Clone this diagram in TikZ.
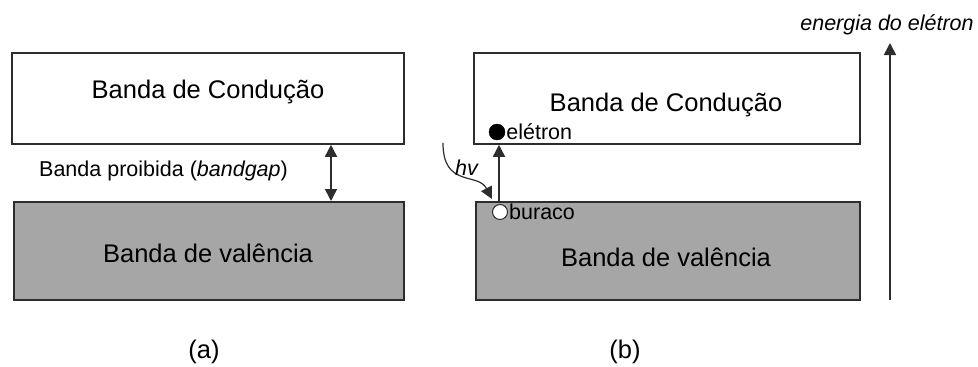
\documentclass[tikz,border=0pt]{standalone}
\usepackage{fontspec}
\setmainfont{Liberation Sans}
\usetikzlibrary{arrows.meta,calc}
\definecolor{bandgray}{RGB}{166,166,166}
\definecolor{edge}{RGB}{45,45,45}
\tikzset{
  bandbox/.style={draw=edge, line width=1.8pt, inner sep=0pt, anchor=north west},
  condbox/.style={bandbox, fill=white},
  valbox/.style={bandbox, fill=bandgray},
  biglabel/.style={inner sep=0pt, font=\fontsize{25.5}{30}\selectfont},
  smalllabel/.style={inner sep=0pt, font=\fontsize{21.5}{26}\selectfont},
  conn/.style={draw=edge, line width=1.6pt},
  tip/.style={-{Triangle[width=12pt,length=12pt]}},
  bothtips/.style={{Triangle[width=12pt,length=12pt]}-{Triangle[width=12pt,length=12pt]}}
}
\begin{document}
\begin{tikzpicture}[x=1pt,y=-1pt]
\useasboundingbox (0,0) rectangle (978,367);
% (a)
\node[condbox, minimum width=392pt, minimum height=91pt] (ca) at (11,52) {};
\node[valbox, minimum width=390pt, minimum height=98pt] (va) at (13,201) {};
\node[biglabel] (tca) at (208,92) {Banda de Condução};
\node[biglabel] (tva) at (208,253) {Banda de valência};
\node[smalllabel, anchor=west] (gap) at (39,171) {Banda proibida (\textit{bandgap})};
\coordinate (gx) at (331,0);
\draw[conn, bothtips] (ca.south -| gx) -- (va.north -| gx);
\node[biglabel] (la) at (204,352) {(a)};
% (b)
\node[condbox, minimum width=386pt, minimum height=91pt] (cb) at (473,52) {};
\node[valbox, minimum width=384pt, minimum height=98pt] (vb) at (475,201) {};
\node[biglabel] (tcb) at (666,105) {Banda de Condução};
\node[biglabel] (tvb) at (666,257) {Banda de valência};
\node[circle, fill=black, draw=black, minimum size=16pt, inner sep=0pt] (el) at (497,132) {};
\node[smalllabel, anchor=west] (tel) at ([xshift=1pt]el.east) {elétron};
\node[circle, fill=white, draw=edge, line width=1pt, minimum size=15pt, inner sep=0pt] (ho) at (500,212) {};
\node[smalllabel, anchor=west] (tho) at ([xshift=1pt]ho.east) {buraco};
\coordinate (ax) at (499,0);
\draw[conn, tip] (vb.north -| ax) -- (cb.south -| ax);
\coordinate (hvs) at (443,143);
\coordinate (hve) at (492,199);
\draw[conn, line width=1.2pt, tip] (hvs) .. controls (443,188) and (478,172) .. (hve);
\node[smalllabel] (hv) at (467,168) {\textit{hv}};
\node[biglabel] (lb) at (625,352) {(b)};
% energy axis
\coordinate (e0) at (890,300);
\coordinate (e1) at (890,43);
\draw[conn, tip] (e0) -- (e1);
\node[smalllabel] (en) at (887,25) {\textit{energia do elétron}};
\end{tikzpicture}
\end{document}
